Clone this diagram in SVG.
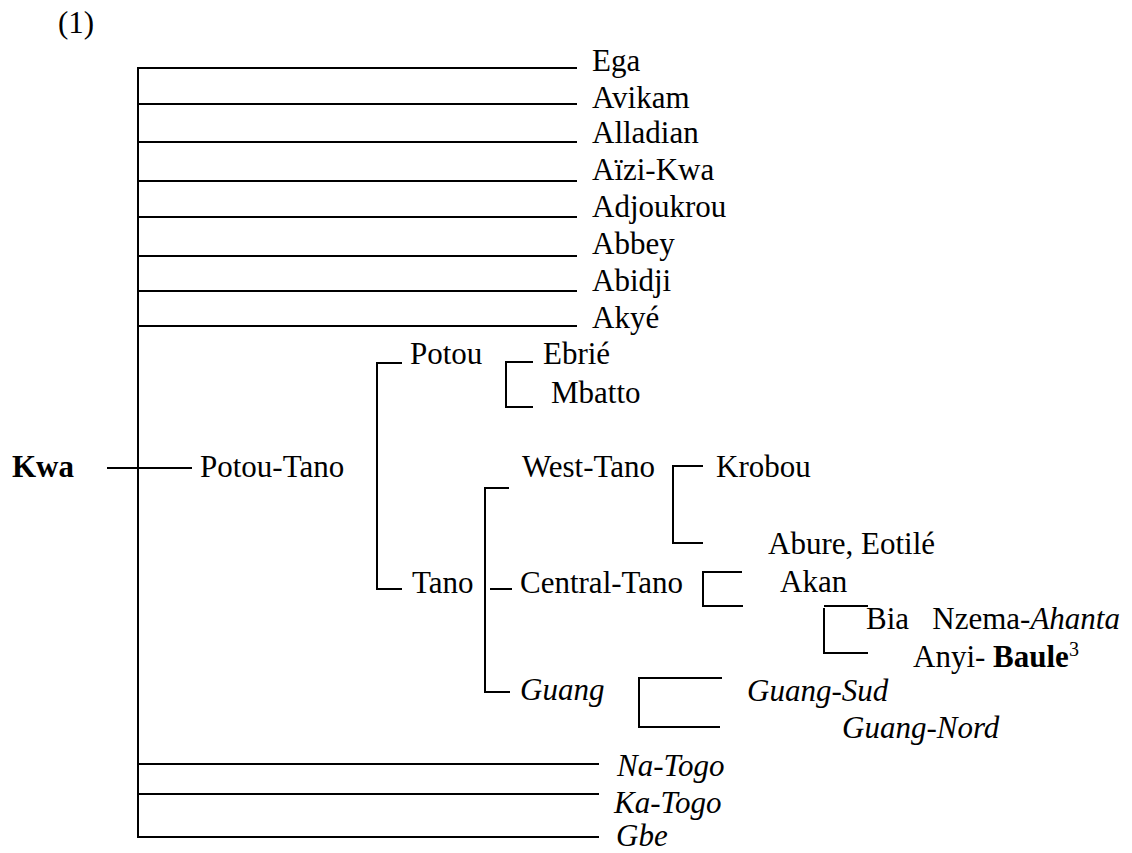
<svg xmlns="http://www.w3.org/2000/svg" width="1132" height="853" viewBox="0 0 1132 853">
<style>
text{font-family:"Liberation Serif","Times New Roman",serif;font-size:31px;fill:#000}
.i{font-style:italic}
.b{font-weight:bold}
#connectors line,#connectors polyline{stroke:#000;stroke-width:2;fill:none}
</style>
<rect width="1132" height="853" fill="#fff"/>
<g id="connectors">
<line x1="138" y1="67" x2="138" y2="838"/>
<line x1="138" y1="68" x2="577" y2="68"/>
<line x1="138" y1="104" x2="577" y2="104"/>
<line x1="138" y1="142" x2="577" y2="142"/>
<line x1="138" y1="181" x2="577" y2="181"/>
<line x1="138" y1="217" x2="577" y2="217"/>
<line x1="138" y1="256" x2="577" y2="256"/>
<line x1="138" y1="291" x2="577" y2="291"/>
<line x1="138" y1="326" x2="577" y2="326"/>
<line x1="138" y1="764" x2="599" y2="764"/>
<line x1="138" y1="794" x2="599" y2="794"/>
<line x1="138" y1="837" x2="599" y2="837"/>
<line x1="107" y1="468" x2="192" y2="468"/>
<polyline points="402,363 377,363 377,589 402,589"/>
<polyline points="533,362 506,362 506,407 533,407"/>
<polyline points="509,488 485,488 485,692 510,692"/>
<line x1="490" y1="589" x2="512" y2="589"/>
<polyline points="703,466 673,466 673,543 703,543"/>
<polyline points="742,572 703,572 703,606 743,606"/>
<line x1="824" y1="606" x2="868" y2="606"/>
<polyline points="824,608 824,653 868,653"/>
<polyline points="722,678 639,678 639,727 720,727"/>
</g>
<g id="label-1"><text x="58" y="33">(1)</text></g>
<g id="node-ega"><text x="592" y="71">Ega</text></g>
<g id="node-avikam"><text x="592" y="108">Avikam</text></g>
<g id="node-alladian"><text x="592" y="143">Alladian</text></g>
<g id="node-aizi"><text x="592" y="180">Aïzi-Kwa</text></g>
<g id="node-adjoukrou"><text x="592" y="217">Adjoukrou</text></g>
<g id="node-abbey"><text x="592" y="254">Abbey</text></g>
<g id="node-abidji"><text x="592" y="291">Abidji</text></g>
<g id="node-akye"><text x="592" y="328">Akyé</text></g>
<g id="node-kwa"><text class="b" x="12" y="477">Kwa</text></g>
<g id="node-potou-tano"><text x="200" y="477">Potou-Tano</text></g>
<g id="node-potou"><text x="410" y="364">Potou</text></g>
<g id="node-ebrie"><text x="543" y="364">Ebrié</text></g>
<g id="node-mbatto"><text x="551" y="403">Mbatto</text></g>
<g id="node-west-tano"><text x="522" y="477">West-Tano</text></g>
<g id="node-krobou"><text x="716" y="477">Krobou</text></g>
<g id="node-abure"><text x="768" y="554">Abure, Eotilé</text></g>
<g id="node-tano"><text x="412" y="593">Tano</text></g>
<g id="node-central-tano"><text x="520" y="593">Central-Tano</text></g>
<g id="node-akan"><text x="780" y="592">Akan</text></g>
<g id="node-bia"><text x="866" y="629" xml:space="preserve">Bia   Nzema-<tspan class="i">Ahanta</tspan></text></g>
<g id="node-anyi"><text x="913" y="667" xml:space="preserve">Anyi- <tspan class="b">Baule</tspan><tspan font-size="20" dy="-11">3</tspan></text></g>
<g id="node-guang"><text class="i" x="520" y="700">Guang</text></g>
<g id="node-guang-sud"><text class="i" x="747" y="701">Guang-Sud</text></g>
<g id="node-guang-nord"><text class="i" x="842" y="738">Guang-Nord</text></g>
<g id="node-na-togo"><text class="i" x="617" y="776">Na-Togo</text></g>
<g id="node-ka-togo"><text class="i" x="614" y="813">Ka-Togo</text></g>
<g id="node-gbe"><text class="i" x="616" y="846">Gbe</text></g>
</svg>
